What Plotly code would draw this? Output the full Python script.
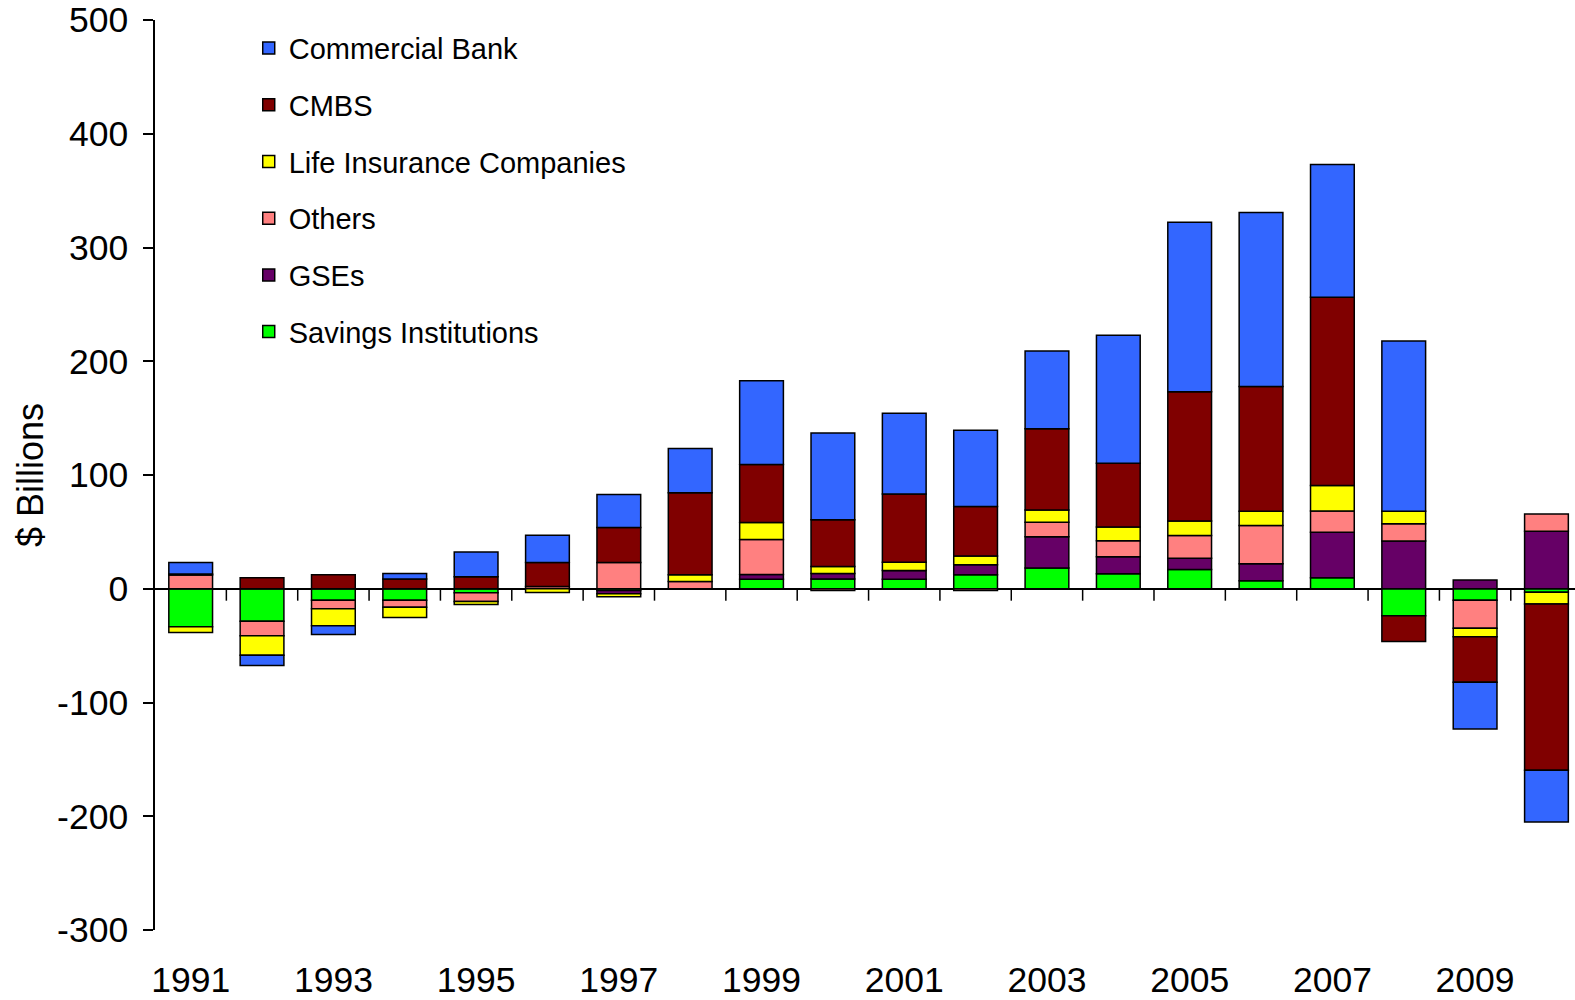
import plotly.graph_objects as go

# Net change in commercial mortgage debt outstanding, by holder ($ billions)
years = [str(y) for y in range(1991, 2011)]
tick_years = [str(y) for y in range(1991, 2011, 2)]
y_ticks = [-300, -200, -100, 0, 100, 200, 300, 400, 500]
y_tick_text = ["-300", "-200", "-100", "0", "100", "200", "300", "400", "500"]

savings = [-33.5, -28.5, -10, -10, -3.5, 0, -1.5, 0, 8.4, 8.5,
           8.4, 12.3, 18.2, 13.2, 17, 7, 9.7, -23.8, -10, -3]
gses = [0, 0, 0, 0, 0, 0, -3, 0, 4.1, 5,
        7.7, 8.8, 27.6, 15, 9.9, 15, 39.9, 41.9, 7.6, 50.5]
others = [12, -12.9, -7.6, -6.2, -7.7, 2, 23, 6.4, 30.8, -1.5,
          0, -1.5, 12.6, 14.1, 20, 33.5, 18.7, 15.3, -24.7, 15.2]
life = [-5, -17, -15, -9, -2.6, -3.3, -2.5, 5.8, 14.9, 6.1,
        7.3, 7.6, 10.8, 12, 12.6, 12.6, 22.4, 10.9, -7.6, -10.5]
cmbs = [1, 9.7, 12.3, 8.5, 10.6, 21, 30.8, 72.2, 51, 41.1,
        59.9, 43.5, 71.4, 56, 113.6, 109.8, 165.6, -22.6, -39.9, -146]
bank = [10, -9, -7.6, 5, 21.6, 24, 29, 38.8, 73.6, 76.2,
        70.9, 67.2, 68.4, 112.5, 149.2, 152.9, 116.7, 149.7, -41.1, -45.6]

# stacking order: first trace sits nearest the zero line
series = [
    ("Savings Institutions", savings, "#00FF00"),
    ("GSEs", gses, "#660066"),
    ("Others", others, "#FF8080"),
    ("Life Insurance Companies", life, "#FFFF00"),
    ("CMBS", cmbs, "#800000"),
    ("Commercial Bank", bank, "#3366FF"),
]

fig = go.Figure()
for i, (name, vals, color) in enumerate(series):
    fig.add_trace(go.Bar(
        x=years, y=vals, name=name, legendgroup=name,
        legendrank=len(series) - i,
        marker=dict(color=color, line=dict(color="black", width=1.5)),
    ))

# short tick marks on the zero line between categories
shapes = []
for i in range(len(years) - 1):
    shapes.append(dict(type="line", xref="x", yref="y",
                       x0=i + 0.5, x1=i + 0.5, y0=0, y1=-10.5,
                       line=dict(color="black", width=1.5)))

font_family = "Liberation Sans, Arial, sans-serif"

fig.update_layout(
    width=1575, height=1000,
    margin=dict(l=155, r=0, t=20, b=68),
    paper_bgcolor="white", plot_bgcolor="white",
    barmode="relative", bargap=0.387,
    font=dict(family=font_family, size=35, color="black"),
    shapes=shapes,
    annotations=[dict(
        text="$ Billions", xref="paper", yref="paper",
        x=-0.088, y=0.5, xanchor="center", yanchor="middle",
        textangle=-90, showarrow=False, font=dict(size=36),
    )],
    legend=dict(
        x=0.066, y=0.997, xanchor="left", yanchor="top",
        traceorder="grouped", tracegroupgap=16,
        font=dict(size=29, family=font_family),
        bgcolor="rgba(0,0,0,0)",
    ),
    xaxis=dict(
        type="category", range=[-0.5, 19.4],
        tickvals=tick_years, ticktext=tick_years,
        showline=False, ticks="", showgrid=False,
        ticklabelstandoff=25, tickfont=dict(size=35.5),
    ),
    yaxis=dict(
        range=[-300, 500], tickvals=y_ticks, ticktext=y_tick_text,
        showgrid=False,
        showline=True, linecolor="black", linewidth=1.5,
        ticks="outside", ticklen=10, tickwidth=1.5, tickcolor="black",
        ticklabelstandoff=8,
        zeroline=True, zerolinecolor="black", zerolinewidth=1.5,
        tickfont=dict(size=35.5),
    ),
)

fig.write_html("out.html")
